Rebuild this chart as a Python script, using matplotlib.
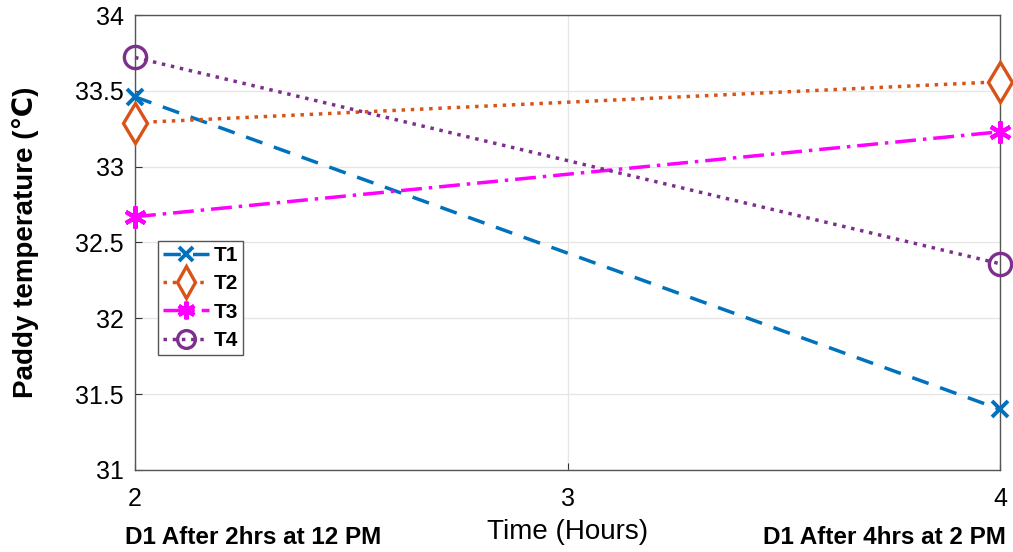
import matplotlib
matplotlib.use("Agg")
import matplotlib.pyplot as plt

hours = [2, 4]
t1 = [33.46, 31.40]
t2 = [33.29, 33.56]
t3 = [32.67, 33.23]
t4 = [33.72, 32.36]
labels = ["T1", "T2", "T3", "T4"]
x_ticks = [2, 3, 4]
y_ticks = [31, 31.5, 32, 32.5, 33, 33.5, 34]
y_ticklabels = ["31", "31.5", "32", "32.5", "33", "33.5", "34"]

plt.rcParams["font.family"] = ["Liberation Sans", "DejaVu Sans"]

fig = plt.figure(figsize=(10.13, 5.52), dpi=100)
ax = fig.add_axes([0.1333, 0.1486, 0.8539, 0.8242])

kw = dict(lw=2.5, clip_on=False, zorder=3)
ax.plot(hours, t1, "--", color="#0072BD", marker="x", ms=12, mew=2.8, dashes=(5, 3.5),
        label=labels[0], **kw)
ax.plot(hours, t2, ":", color="#D95319", marker="d", ms=20, mfc="white", mew=2.4,
        label=labels[1], **kw)
ax.plot(hours, t3, "-.", color="#FF00FF", marker=(6, 2, 0), ms=16, mew=3,
        dashes=(6, 2, 1, 2), label=labels[2], **kw)
ax.plot(hours, t4, ":", color="#7E2F8E", marker="o", ms=16, mfc="none", mew=2.4,
        label=labels[3], **kw)

ax.set_xlim(2, 4)
ax.set_ylim(31, 34)
ax.set_xticks(x_ticks)
ax.set_yticks(y_ticks)
ax.set_yticklabels(y_ticklabels)
ax.grid(True, color="#e6e6e6", lw=1.0)
ax.tick_params(direction="in", length=5, labelsize=18, color="#333333")
ax.tick_params(axis="x", pad=12)
ax.tick_params(axis="y", pad=8)
for sp in ax.spines.values():
    sp.set_color("#555555")
    sp.set_linewidth(1.0)

ax.set_ylabel("Paddy temperature (\u2103)", fontsize=20, fontweight="bold", labelpad=26)
ax.set_xlabel("Time (Hours)", fontsize=20, labelpad=6)
fig.text(125 / 1013, 1 - 538 / 552, "D1 After 2hrs at 12 PM", fontsize=17.5,
         fontweight="bold", ha="left", va="center")
fig.text(1006 / 1013, 1 - 538 / 552, "D1 After 4hrs at 2 PM", fontsize=17.5,
         fontweight="bold", ha="right", va="center")

leg = ax.legend(loc="upper left", bbox_to_anchor=(0.022, 0.513), fontsize=15, handlelength=2.2,
                handletextpad=0.2, borderpad=0.25, borderaxespad=0.2, labelspacing=0.45,
                fancybox=False, framealpha=1, edgecolor="#555555", markerscale=0.8)
for t in leg.get_texts():
    t.set_fontweight("bold")

fig.savefig("out.png", dpi=100)
